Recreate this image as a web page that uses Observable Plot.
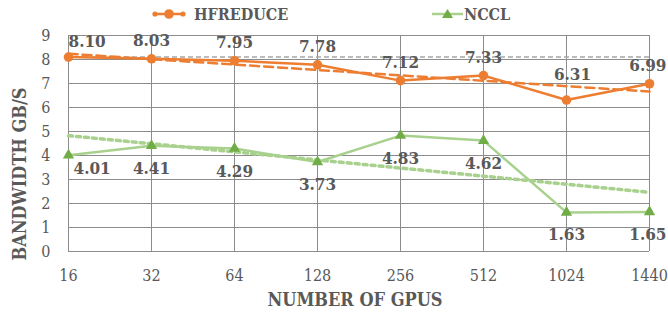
<!DOCTYPE html>
<html><head><meta charset="utf-8">
<script src="https://cdn.jsdelivr.net/npm/d3@7"></script>
<script src="https://cdn.jsdelivr.net/npm/@observablehq/plot@0.6"></script>
<style>
body{margin:0;background:#fff;}
#wrap{position:relative;width:668px;height:314px;font-family:"DejaVu Serif Condensed","DejaVu Serif",serif;overflow:hidden;}
.leg{position:absolute;top:3px;height:22px;display:flex;align-items:center;font-weight:bold;font-size:16px;color:#595959;white-space:nowrap;}
.leg svg{display:block;}
#ytitle{position:absolute;left:20px;top:174px;transform:translate(-50%,-50%) rotate(-90deg);font-weight:bold;font-size:18px;color:#595959;white-space:nowrap;line-height:1;}
</style></head><body>
<div id="wrap"></div>
<script>
const gpus = ["16","32","64","128","256","512","1024","1440"];
const hfreduce = [8.10,8.03,7.95,7.78,7.12,7.33,6.31,6.99];
const nccl = [4.01,4.41,4.29,3.73,4.83,4.62,1.63,1.65];
const reference = [8.10];
const yTicks = [0,1,2,3,4,5,6,7,8,9];
const seriesNames = ["HFREDUCE","NCCL"];
const axisTitles = {x:"NUMBER OF GPUS", y:"BANDWIDTH GB/S"};

const FONT = "'DejaVu Serif Condensed', 'DejaVu Serif', serif";
const ORANGE = "#ed7d31", GREEN_L = "#a9d18e", GREEN_D = "#70ad47", INK = "#595959", GRID = "#8c8c8c";
const rows = gpus.map((g, i) => ({i, g, h: hfreduce[i], n: nccl[i]}));
const idx = d3.range(gpus.length);
const last = gpus.length - 1;
const lab = {fontWeight:"bold", fontSize:17, fill:INK, fontFamily: FONT};

const chart = Plot.plot({
  width: 668, height: 314,
  marginLeft: 68, marginRight: 19, marginTop: 35, marginBottom: 63,
  x: {type: "linear", domain: [0, last]},
  y: {domain: [0, 9]},
  style: {fontFamily: FONT, fontSize: "16px", color: INK, background: "transparent"},
  marks: [
    Plot.gridX(idx, {stroke: GRID, strokeOpacity: 1, strokeWidth: 1}),
    Plot.gridY(yTicks, {stroke: GRID, strokeOpacity: 1, strokeWidth: 1}),
    Plot.axisX(idx, {tickSize: 0, tickPadding: 18, tickFormat: i => gpus[i], label: null, fontSize: 16, fontFamily: FONT}),
    Plot.axisY(yTicks, {tickSize: 0, tickPadding: 18, label: null, fontSize: 16, fontFamily: FONT}),
    Plot.ruleY(reference, {stroke: "#a6a6a6", strokeDasharray: "5,3", strokeWidth: 1.5}),
    Plot.linearRegressionY(rows, {x: "i", y: "n", ci: 0, stroke: GREEN_L, strokeWidth: 3.5, strokeDasharray: "4,4"}),
    Plot.linearRegressionY(rows, {x: "i", y: "h", ci: 0, stroke: ORANGE, strokeWidth: 2.5, strokeDasharray: "9,5"}),
    Plot.line(rows, {x: "i", y: "n", stroke: GREEN_L, strokeWidth: 2.5}),
    Plot.line(rows, {x: "i", y: "h", stroke: ORANGE, strokeWidth: 2.5}),
    Plot.dot(rows, {x: "i", y: "n", symbol: "triangle", r: 4.2, fill: GREEN_D, stroke: "none"}),
    Plot.dot(rows, {x: "i", y: "h", r: 4.8, fill: ORANGE, stroke: "none"}),
    // HFREDUCE labels (above)
    Plot.text(rows, {filter: d => d.i === 0, x: "i", y: "h", text: d => d.h.toFixed(2), textAnchor: "start", dy: -10, lineAnchor: "bottom", ...lab}),
    Plot.text(rows, {filter: d => d.i > 0 && d.i < last && d.i !== 6, x: "i", y: "h", text: d => d.h.toFixed(2), dy: -13, lineAnchor: "bottom", ...lab}),
    Plot.text(rows, {filter: d => d.i === 6, x: "i", y: "h", text: d => d.h.toFixed(2), dx: 6, dy: -20, lineAnchor: "bottom", ...lab}),
    Plot.text(rows, {filter: d => d.i === last, x: "i", y: "h", text: d => d.h.toFixed(2), textAnchor: "end", dx: 17, dy: -13, lineAnchor: "bottom", ...lab}),
    // NCCL labels (below)
    Plot.text(rows, {filter: d => d.i === 0, x: "i", y: "n", text: d => d.n.toFixed(2), textAnchor: "start", dx: 5, dy: 7, lineAnchor: "top", ...lab}),
    Plot.text(rows, {filter: d => d.i > 0 && d.i < last, x: "i", y: "n", text: d => d.n.toFixed(2), dy: 16, lineAnchor: "top", ...lab}),
    Plot.text(rows, {filter: d => d.i === last, x: "i", y: "n", text: d => d.n.toFixed(2), textAnchor: "end", dx: 17, dy: 16, lineAnchor: "top", ...lab}),
    // x axis title
    Plot.text([axisTitles.x], {frameAnchor: "bottom", text: d => d, dx: -4, dy: 49, lineAnchor: "middle", fontWeight: "bold", fontSize: 18, fill: INK, fontFamily: FONT})
  ]
});
const wrap = document.getElementById("wrap");
chart.style.position = "absolute"; chart.style.left = "0"; chart.style.top = "0";
wrap.appendChild(chart);

const yt = document.createElement("div");
yt.id = "ytitle"; yt.textContent = axisTitles.y;
wrap.appendChild(yt);

// legend
const leg1 = document.createElement("div");
leg1.className = "leg"; leg1.style.left = "152px";
leg1.innerHTML = `<svg width="34" height="12"><line x1="1" y1="6" x2="33" y2="6" stroke="${ORANGE}" stroke-width="2.5"/><circle cx="3" cy="6" r="2.6" fill="${ORANGE}"/><circle cx="31" cy="6" r="2.6" fill="${ORANGE}"/><circle cx="17" cy="6" r="4.8" fill="${ORANGE}"/></svg><span style="margin-left:8px">${seriesNames[0]}</span>`;
const leg2 = document.createElement("div");
leg2.className = "leg"; leg2.style.left = "432px";
leg2.innerHTML = `<svg width="31" height="12"><line x1="0" y1="6" x2="31" y2="6" stroke="${GREEN_L}" stroke-width="2.5"/><path d="M15.5,1 L21,10 L10,10 Z" fill="${GREEN_D}"/></svg><span style="margin-left:1px">${seriesNames[1]}</span>`;
wrap.appendChild(leg1);
wrap.appendChild(leg2);
</script>
</body></html>
